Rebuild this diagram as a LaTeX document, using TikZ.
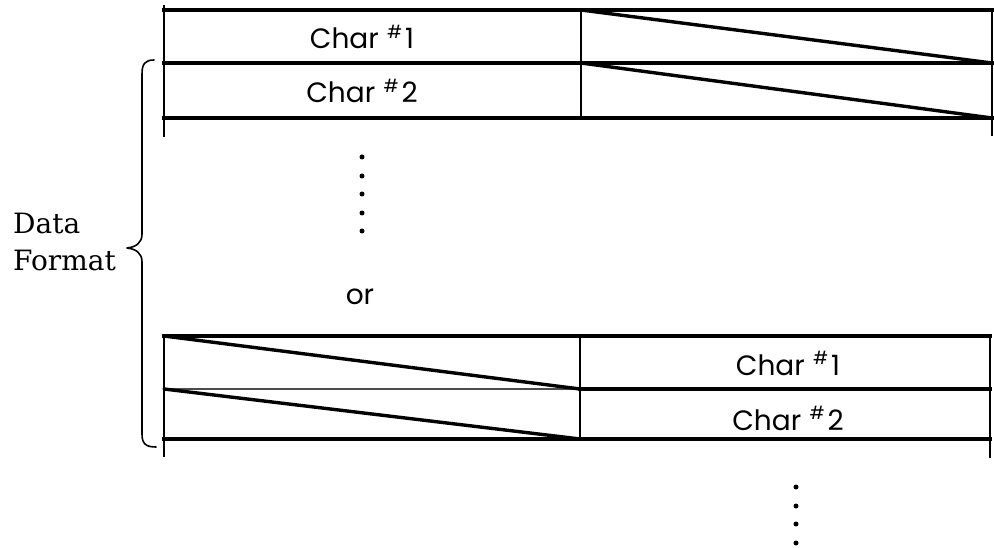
\documentclass[tikz,border=0pt]{standalone}
\usepackage{fontspec}
\setmainfont{Poppins}
\newfontfamily\labelserif{DejaVu Serif}
\newcommand{\charno}[1]{Char\hspace{0.3em}{\raisebox{0.38em}{\fontsize{18}{18}\selectfont\#}}\hspace{0.1em}#1}
\begin{document}
\begin{tikzpicture}[x=1pt,y=-1pt,
  rule/.style={line width=3.6pt, line cap=rect},
  thinrule/.style={line width=2pt, black!70},
  post/.style={line width=2.8pt},
  slash/.style={line width=3.4pt, line cap=round},
  cellname/.style={font=\fontsize{28}{28}\selectfont, anchor=base, inner sep=0pt},
  sidelabel/.style={font=\labelserif\fontsize{28}{28}\selectfont, anchor=base west, inner sep=0pt},
  dot/.style={circle, fill, inner sep=0pt, minimum size=5pt},
  brace/.style={line width=1.6pt, line cap=round, line join=round}]
\useasboundingbox (0,0) rectangle (994,548);

% ---- upper record: text on the left half ----
\coordinate (a0) at (164,10);  \coordinate (a1) at (164,63);  \coordinate (a2) at (164,118);
\coordinate (m0) at (581,10);  \coordinate (m1) at (581,63);  \coordinate (m2) at (581,118);
\coordinate (r0) at (992,10);  \coordinate (r1) at (992,63);  \coordinate (r2) at (992,118);
\coordinate (atop) at (164,5); \coordinate (abot) at (164,137);
\coordinate (rtop) at (992,8); \coordinate (rbot) at (992,136);
\draw[rule] (a0) -- (r0);
\draw[rule] (a1) -- (r1);
\draw[rule] (a2) -- (r2);
\draw[post] (atop) -- (abot);
\draw[post] (m0) -- (m2);
\draw[post] (rtop) -- (rbot);
\draw[slash] (m0) -- (r1);
\draw[slash] (m1) -- (r2);
\node[cellname] (c1) at (362,49) {\charno{1}};
\node[cellname] (c2) at (362,103) {\charno{2}};

% continuation dots
\foreach \i/\y in {1/157,2/176,3/194,4/213,5/231}
  \node[dot] (d\i) at (362,\y) {};
\node[font=\fontsize{28}{28}\selectfont, anchor=base, inner sep=0pt] (or) at (360,305) {or};

% ---- lower record: text on the right half ----
\coordinate (b0) at (164,336); \coordinate (b1) at (164,389); \coordinate (b2) at (164,439);
\coordinate (n0) at (580,336); \coordinate (n1) at (580,389); \coordinate (n2) at (580,439);
\coordinate (s0) at (990,336); \coordinate (s1) at (990,389); \coordinate (s2) at (990,439);
\coordinate (bbot) at (164,457); \coordinate (sbot) at (990,458);
\draw[rule] (b0) -- (s0);
\draw[thinrule] (b1) -- (n1);
\draw[rule] (n1) -- (s1);
\draw[rule] (b2) -- (s2);
\draw[post] (b0) -- (bbot);
\draw[post] (n0) -- (n2);
\draw[post] (s0) -- (sbot);
\draw[slash] (b0) -- (n1);
\draw[slash] (b1) -- (n2);
\node[cellname] (c3) at (788,375) {\charno{1}};
\node[cellname] (c4) at (788,430) {\charno{2}};

\foreach \i/\y in {1/487,2/506,3/524,4/543}
  \node[dot] (e\i) at (796,\y) {};

% ---- brace and its label ----
\coordinate (bt) at (154,60);
\coordinate (bm) at (127,248);
\coordinate (bb) at (156,447);
\draw[brace] (bt) .. controls (145,60) and (142,64) .. (142,74)
  -- (142,234) .. controls (142,243) and (136,247) .. (bm)
  .. controls (136,249) and (142,253) .. (142,262)
  -- (142,434) .. controls (142,444) and (146,447) .. (bb);
\node[sidelabel] (lab1) at (13,234) {Data};
\node[sidelabel] (lab2) at (13,271) {Format};
\end{tikzpicture}
\end{document}
